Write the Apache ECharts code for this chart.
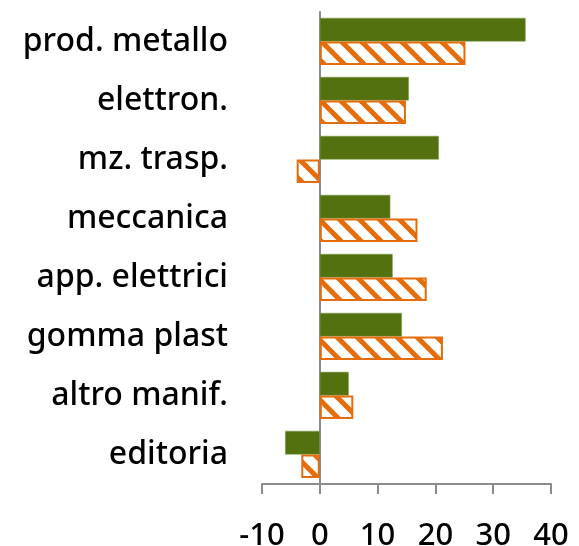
<!DOCTYPE html>
<html>
<head>
<meta charset="utf-8">
<script src="https://cdn.jsdelivr.net/npm/echarts@6/dist/echarts.min.js"></script>
<style>
  html, body { margin: 0; padding: 0; background: #fff; }
  #main { width: 579px; height: 546px; }
</style>
</head>
<body>
<div id="main"></div>
<script>
var categories = ['prod. metallo', 'elettron.', 'mz. trasp.', 'meccanica', 'app. elettrici', 'gomma plast', 'altro manif.', 'editoria'];
var greenValues = [35.6, 15.4, 20.6, 12.2, 12.6, 14.2, 5.0, -6.0];
var orangeValues = [25.2, 14.9, -4.0, 16.9, 18.5, 21.3, 5.8, -3.2];
var xTicks = [-10, 0, 10, 20, 30, 40];

var GREEN = '#53710f';
var ORANGE = '#e46c0a';

// diagonal hatch tile, lines run past the edges so the tiles join up
function hatch() {
    var s = 20;
    var c = document.createElement('canvas');
    c.width = s; c.height = s;
    var ctx = c.getContext('2d');
    ctx.fillStyle = '#fff';
    ctx.fillRect(0, 0, s, s);
    ctx.strokeStyle = ORANGE;
    ctx.lineWidth = 5;
    [-s, 0, s].forEach(function (o) {
        ctx.beginPath();
        ctx.moveTo(o - 6, -6);
        ctx.lineTo(o + s + 6, s + 6);
        ctx.stroke();
    });
    return c;
}

var myChart = echarts.init(document.getElementById('main'));

var option = {
    animation: false,
    grid: { left: 262, right: 28, top: 12, bottom: 62, outerBoundsMode: 'none', containLabel: false },
    xAxis: {
        type: 'value',
        min: xTicks[0],
        max: xTicks[xTicks.length - 1],
        interval: 10,
        splitLine: { show: false },
        axisLine: { show: true, onZero: false, lineStyle: { color: '#8c8c8c', width: 2 } },
        axisTick: { show: true, length: 10, lineStyle: { color: '#8c8c8c', width: 2 } },
        axisLabel: { margin: 37, fontSize: 31, fontWeight: 500, color: '#000', fontFamily: 'Noto Sans' }
    },
    yAxis: {
        type: 'category',
        data: categories,
        inverse: true,
        axisLine: { show: true, onZero: true, lineStyle: { color: '#8c8c8c', width: 2 } },
        axisTick: { show: false },
        axisLabel: { margin: 34, fontSize: 32, fontWeight: 500, color: '#000', fontFamily: 'Noto Sans' }
    },
    series: [
        {
            type: 'bar',
            data: greenValues,
            barGap: '0%',
            barCategoryGap: '20%',
            itemStyle: { color: GREEN, borderColor: '#7f9a4a', borderWidth: 0.5 }
        },
        {
            type: 'bar',
            data: orangeValues,
            barGap: '0%',
            barCategoryGap: '20%',
            itemStyle: {
                color: { image: hatch(), repeat: 'repeat' },
                borderColor: ORANGE,
                borderWidth: 2
            }
        }
    ]
};

myChart.setOption(option);
</script>
</body>
</html>
